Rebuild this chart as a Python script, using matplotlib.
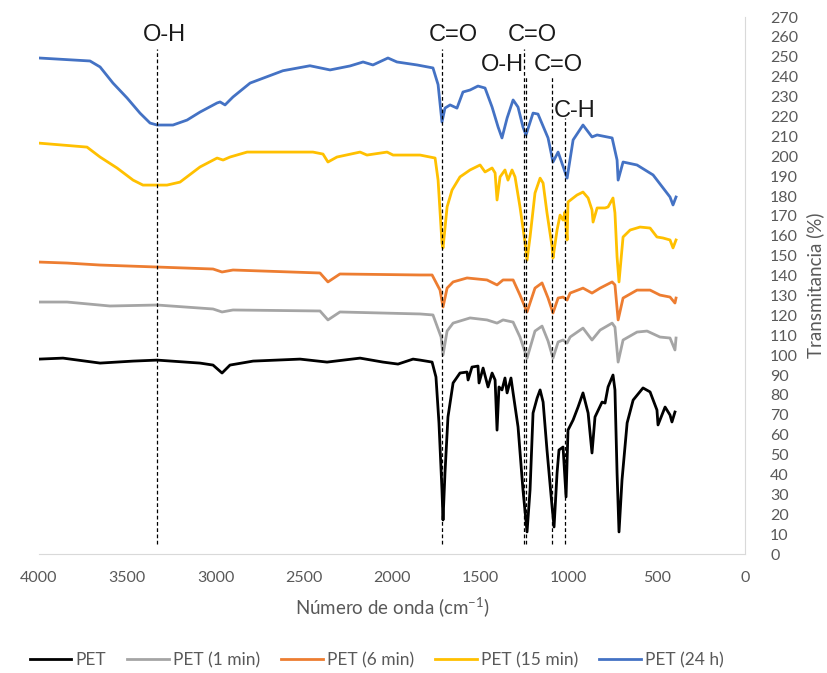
import numpy as np
import matplotlib
matplotlib.use("Agg")
import matplotlib.pyplot as plt

plt.rcParams['font.family'] = ['Lato', 'DejaVu Sans']
plt.rcParams['mathtext.fontset'] = 'custom'
plt.rcParams['mathtext.rm'] = 'Lato'

# FTIR spectra: (wavenumber cm-1, transmittance %)
PET = [(4000, 98.0), (3864, 98.5), (3654, 96.0), (3467, 97.0), (3331, 97.5), (3088, 96.0),
       (3014, 95.0), (2963, 91.0), (2918, 95.0), (2787, 97.0), (2521, 98.0), (2368, 96.5),
       (2181, 98.5), (2051, 96.5), (1966, 95.5), (1881, 98.0), (1841, 97.5), (1773, 96.5),
       (1751, 89.0), (1734, 65.9), (1717, 32.2), (1711, 17.1), (1700, 40.7), (1683, 68.9),
       (1654, 86.0), (1615, 91.0), (1575, 91.5), (1569, 87.5), (1547, 94.0), (1513, 94.5),
       (1507, 86.0), (1484, 93.5), (1456, 84.0), (1433, 91.0), (1416, 87.5), (1405, 62.3),
       (1394, 84.0), (1377, 82.5), (1360, 88.5), (1348, 81.0), (1326, 88.5), (1314, 81.0),
       (1286, 63.9), (1258, 32.2), (1235, 11.1), (1218, 32.2), (1201, 70.9), (1178, 78.4),
       (1161, 82.5), (1144, 76.4), (1122, 52.3), (1093, 23.6), (1082, 13.6), (1065, 40.7),
       (1054, 52.3), (1031, 53.8), (1014, 28.7), (1003, 62.3), (974, 67.4), (946, 73.9),
       (918, 81.0), (889, 70.9), (867, 50.8), (850, 68.9), (810, 76.4), (793, 75.9),
       (776, 84.0), (748, 90.0), (737, 82.5), (725, 40.7), (714, 11.1), (697, 37.2),
       (668, 65.9), (634, 77.4), (578, 83.5), (538, 81.5), (499, 72.4), (493, 64.9),
       (453, 73.9), (425, 69.9), (414, 66.4), (397, 71.4)]

PET_1min = [(4000, 126.7), (3841, 126.7), (3598, 124.7), (3331, 125.2), (3014, 123.2),
            (2963, 121.7), (2901, 122.7), (2408, 122.2), (2363, 117.7), (2295, 121.7),
            (1841, 120.7), (1768, 120.2), (1722, 109.1), (1711, 100.1), (1688, 112.1),
            (1654, 116.1), (1558, 118.7), (1462, 117.7), (1405, 116.1), (1371, 117.7),
            (1314, 116.6), (1275, 109.1), (1235, 98.5), (1190, 112.1), (1150, 114.6),
            (1116, 107.1), (1088, 98.5), (1059, 106.6), (1031, 107.6), (1008, 106.1),
            (991, 109.1), (918, 113.6), (867, 107.6), (821, 112.6), (753, 116.1),
            (737, 114.1), (719, 96.5), (691, 107.6), (612, 111.6), (555, 112.1),
            (482, 109.1), (425, 108.6), (397, 102.6), (391, 108.6)]

PET_6min = [(4000, 146.8), (3841, 146.3), (3654, 145.3), (3331, 144.3), (3014, 143.3),
            (2963, 141.8), (2901, 142.8), (2408, 141.3), (2363, 136.8), (2295, 140.8),
            (1841, 140.3), (1773, 140.3), (1728, 132.7), (1711, 124.2), (1688, 133.7),
            (1654, 136.8), (1575, 138.8), (1462, 137.8), (1405, 135.3), (1371, 137.8),
            (1314, 137.8), (1275, 130.2), (1235, 121.7), (1190, 133.7), (1150, 136.3),
            (1116, 128.7), (1088, 121.2), (1059, 128.7), (1031, 129.2), (1008, 127.7),
            (991, 131.2), (918, 133.7), (867, 131.2), (821, 133.7), (753, 136.8),
            (737, 135.3), (719, 117.7), (691, 128.7), (612, 132.7), (538, 132.7),
            (482, 130.2), (425, 129.2), (397, 126.2), (391, 128.7)]

PET_15min = [(4000, 206.6), (3728, 204.6), (3654, 199.6), (3558, 194.1), (3467, 188.0),
             (3411, 185.5), (3275, 185.5), (3201, 187.0), (3088, 194.6), (2991, 199.1),
             (2957, 198.1), (2918, 199.6), (2821, 202.1), (2448, 202.1), (2391, 201.1),
             (2363, 197.1), (2312, 199.6), (2181, 202.1), (2142, 200.6), (2028, 202.1),
             (1994, 200.6), (1841, 200.6), (1756, 199.1), (1739, 188.0), (1717, 156.4),
             (1711, 153.9), (1688, 174.5), (1660, 183.0), (1615, 189.6), (1558, 193.1),
             (1501, 195.6), (1473, 192.1), (1433, 194.1), (1416, 191.6), (1405, 178.0),
             (1388, 189.6), (1360, 193.1), (1343, 188.0), (1320, 193.1), (1303, 189.6),
             (1275, 174.5), (1246, 156.4), (1235, 147.8), (1218, 159.4), (1190, 181.5),
             (1161, 189.0), (1144, 186.5), (1122, 171.5), (1093, 154.4), (1088, 148.8),
             (1065, 162.9), (1048, 170.4), (1031, 167.9), (1020, 172.0), (1008, 157.9),
             (1003, 177.0), (952, 180.5), (918, 182.0), (889, 179.0), (867, 173.0),
             (861, 166.9), (838, 174.0), (793, 174.0), (776, 174.5), (748, 179.0),
             (737, 171.5), (725, 149.3), (714, 136.8), (691, 159.4), (651, 162.9),
             (595, 164.4), (538, 163.9), (499, 159.4), (465, 158.9), (425, 157.9),
             (408, 153.9), (391, 157.9)]

PET_24h = [(4000, 249.4), (3711, 247.9), (3654, 244.9), (3581, 236.8), (3501, 229.3),
           (3428, 221.7), (3371, 216.7), (3331, 215.7), (3241, 215.7), (3161, 218.2),
           (3088, 222.2), (2991, 226.8), (2974, 227.3), (2946, 225.8), (2918, 228.3),
           (2901, 229.8), (2804, 236.8), (2618, 243.0), (2465, 245.5), (2351, 243.4),
           (2238, 245.4), (2164, 247.4), (2108, 245.9), (2023, 249.4), (1972, 247.4),
           (1858, 245.9), (1768, 244.4), (1739, 236.0), (1717, 217.2), (1700, 224.2),
           (1671, 225.8), (1632, 224.2), (1598, 232.3), (1558, 233.3), (1513, 235.3),
           (1473, 234.3), (1433, 224.7), (1399, 214.7), (1377, 209.2), (1348, 219.2),
           (1314, 228.3), (1286, 224.7), (1258, 214.7), (1241, 210.7), (1201, 221.7),
           (1173, 221.2), (1116, 209.2), (1088, 197.1), (1059, 202.1), (1008, 189.0),
           (974, 208.2), (918, 215.7), (867, 209.7), (838, 210.7), (753, 209.2),
           (725, 198.1), (719, 188.0), (691, 197.1), (612, 195.6), (521, 190.6),
           (425, 179.5), (408, 175.5), (391, 179.5)]

names = ["PET", "PET (1 min)", "PET (6 min)", "PET (15 min)", "PET (24 h)"]
colors = ["#000000", "#A5A5A5", "#ED7D31", "#FFC000", "#4472C4"]
series = [PET, PET_1min, PET_6min, PET_15min, PET_24h]

# band labels: text, line position, line top, label x, label y
bands = [("O-H", 3331, 254, 3289, 261),
         ("C=O", 1719, 254, 1654, 261),
         ("C=O", 1252, 254, 1203, 261),
         ("O-H", 1241, 240, 1377, 246),
         ("C=O", 1093, 240, 1057, 246),
         ("C-H", 1020, 219, 965, 222.5)]

fig = plt.figure(figsize=(8.28, 6.73), dpi=100)
ax = fig.add_axes([0.0471, 0.1768, 0.8527, 0.7979])

for data, name, c in zip(series, names, colors):
    x, y = np.transpose(data)
    ax.plot(x, y, color=c, lw=2, label=name)

for txt, xl, top, tx, ty in bands:
    ax.plot([xl, xl], [5, top], color="black", lw=0.9, ls=(0, (3, 2)), zorder=5)
    ax.text(tx, ty, txt, fontsize=17, family="Liberation Sans", ha="center", va="center", color="#1a1a1a")

ax.set_xlim(4000, 0)
ax.set_ylim(0, 270)
ax.set_xticks(np.arange(4000, -1, -500))
ax.set_yticks(np.arange(0, 271, 10))
ax.yaxis.tick_right()
ax.tick_params(axis="both", length=0, labelsize=11.5, labelcolor="#595959")
ax.tick_params(axis="y", pad=18)
ax.tick_params(axis="x", pad=12)
for s in ["top", "left"]:
    ax.spines[s].set_visible(False)
for s in ["bottom", "right"]:
    ax.spines[s].set_color("#D9D9D9")

ax.set_xlabel(r"Número de onda (cm$^{\mathregular{-1}}$)", fontsize=13.5, color="#595959", labelpad=8)
fig.text(0.984, 0.576, "Transmitancia (%)", rotation=90, ha="center", va="center",
         fontsize=13.5, color="#595959")

fig.legend(loc="center", bbox_to_anchor=(0.455, 0.019), ncol=5, frameon=False,
           fontsize=12.5, handlelength=2.4, handletextpad=0.25, columnspacing=1.2,
           labelcolor="#595959")

plt.savefig("out.png", dpi=100)
